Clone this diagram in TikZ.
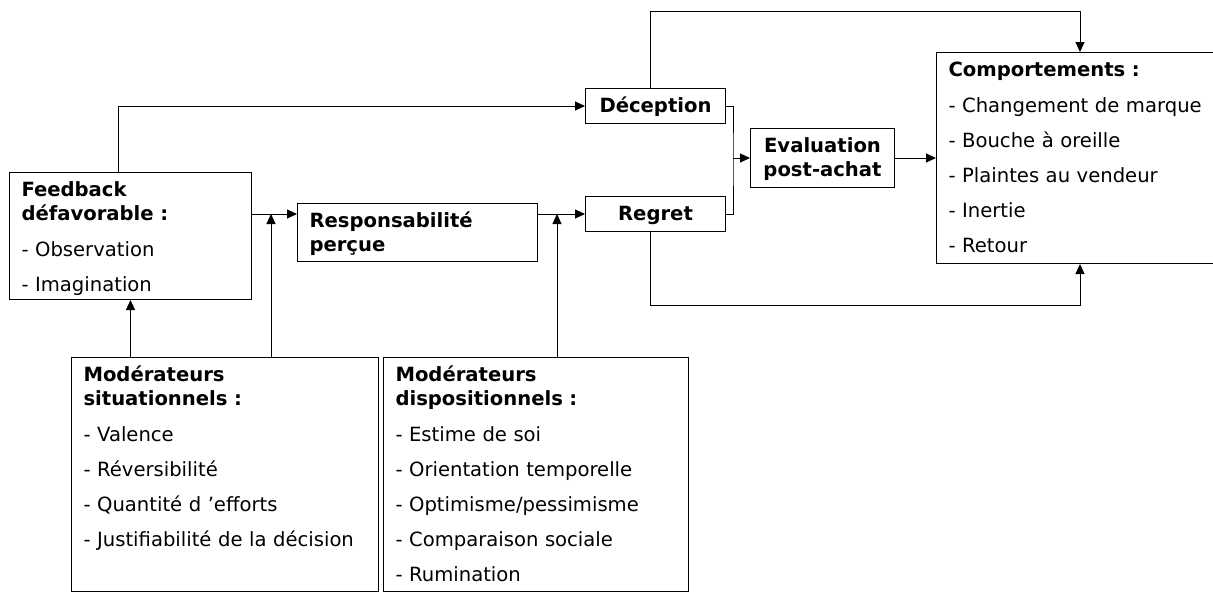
\documentclass[tikz,border=0pt]{standalone}
\usepackage{fontspec}
\setmainfont{DejaVu Sans}
\usepackage{tikz}
\usetikzlibrary{arrows.meta,positioning,calc}

\tikzset{
  box/.style={draw, line width=1pt, anchor=north west, inner xsep=12pt, inner ysep=10pt,
    text height=14pt, align=left, font=\fontsize{19.6}{23.5}\selectfont},
  cbox/.style={box, align=center},
  arr/.style={line width=1pt, -{Triangle[length=10pt,width=9pt]}},
  link/.style={line width=1pt}
}
\newcommand{\hd}[1]{\textbf{#1}}

\begin{document}
\begin{tikzpicture}[x=1pt,y=-1pt]
  \useasboundingbox (0,0) rectangle (1213,592);
  % boxes
  \node[box, text width=218pt, text depth=93pt] (fb) at (9,172)
    {\hd{Feedback}\\\hd{défavorable :}\\[12.5pt]- Observation\\[11.5pt]- Imagination};
  \node[box, text width=216pt, text depth=24pt] (resp) at (297,203)
    {\hd{Responsabilité}\\\hd{perçue}};
  \node[cbox, text width=116pt, text depth=1pt] (dec) at (585,88) {\hd{Déception}};
  \node[cbox, text width=116pt, text depth=1pt] (reg) at (585,196) {\hd{Regret}};
  \node[cbox, text width=120pt, text depth=25pt] (eval) at (750,128)
    {\hd{Evaluation}\\\hd{post-achat}};
  \node[box, text width=256pt, text depth=177pt] (comp) at (936,52)
    {\hd{Comportements :}\\[12.5pt]- Changement de marque\\[11.5pt]- Bouche à oreille\\[11.5pt]- Plaintes au vendeur\\[11.5pt]- Inertie\\[11.5pt]- Retour};
  \node[box, text width=283pt, text depth=200pt] (sit) at (71,357)
    {\hd{Modérateurs}\\\hd{situationnels :}\\[12.5pt]- Valence\\[11.5pt]- Réversibilité\\[11.5pt]- Quantité d ’efforts\\[11.5pt]- Justifiabilité de la décision};
  \node[box, text width=281pt, text depth=200pt] (disp) at (383,357)
    {\hd{Modérateurs}\\\hd{dispositionnels :}\\[12.5pt]- Estime de soi\\[11.5pt]- Orientation temporelle\\[11.5pt]- Optimisme/pessimisme\\[11.5pt]- Comparaison sociale\\[11.5pt]- Rumination};

  % helper points
  \coordinate (row) at (0,214);
  \coordinate (j1) at (271,214);
  \coordinate (j2) at (557,214);
  \coordinate (merge) at (733,0);
  \coordinate (top) at (650,11);
  \coordinate (bot) at (650,305);
  \coordinate (cx) at (1080,0);

  % connectors
  \draw[arr] ([xshift=-12pt]fb.north) |- (dec);
  \draw[arr] (fb.east |- row) -- (resp.west |- row);
  \draw[arr] (resp.east |- row) -- (reg.west |- row);
  \draw[arr] (sit.north -| fb.south) -- (fb.south);
  \draw[arr] (sit.north -| j1) -- (j1);
  \draw[arr] (disp.north -| j2) -- (j2);
  \draw[link] (dec.east) -| (merge |- eval.west) |- (reg.east);
  \draw[arr] (merge |- eval.west) -- (eval.west);
  \draw[arr] (eval.east) -- (comp.west |- eval.east);
  \draw[arr] (dec.north -| top) -- (top) -- (top -| cx) -- (comp.north -| cx);
  \draw[arr] (reg.south -| bot) -- (bot) -- (bot -| cx) -- (comp.south -| cx);
\end{tikzpicture}
\end{document}
